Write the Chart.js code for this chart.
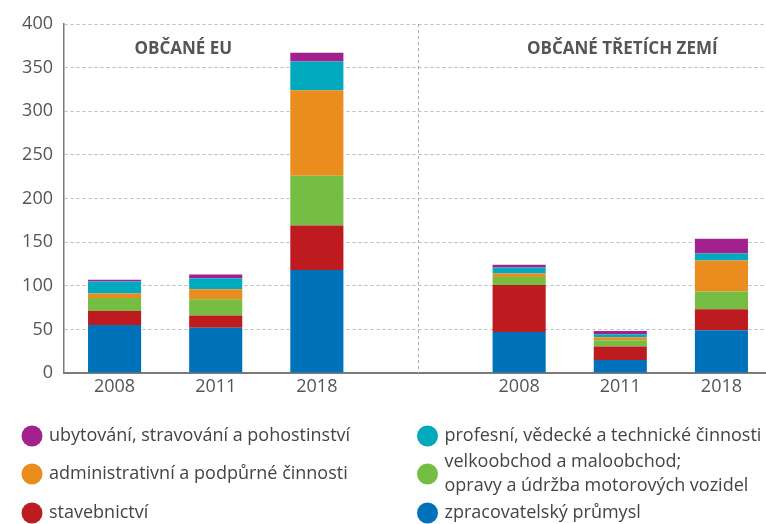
<!DOCTYPE html>
<html>
<head>
<meta charset="utf-8">
<script src="https://cdn.jsdelivr.net/npm/chart.js@4.4.1/dist/chart.umd.min.js"></script>
<style>
  html, body { margin: 0; padding: 0; background: #fff; overflow: hidden; }
  #wrap { width: 772px; height: 524px; }
</style>
</head>
<body>
<div id="wrap"><canvas id="c" width="772" height="524"></canvas></div>
<script>
// ---- data ----
const categories = ['2008', '2011', '2018', '', '2008', '2011', '2018'];
const groupTitles = ['OBČANÉ EU', 'OBČANÉ TŘETÍCH ZEMÍ'];
const yTicks = [0, 50, 100, 150, 200, 250, 300, 350, 400];

const zpracovatelsky = [55, 52, 118, null, 47, 15, 49];
const stavebnictvi   = [16, 14, 51, null, 54, 15.5, 24];
const velkoobchod    = [15, 18.5, 57, null, 9, 7, 20.5];
const administrativni= [5, 11.5, 98, null, 4, 3.5, 35.5];
const profesni       = [14, 12.5, 33, null, 7, 3.5, 8];
const ubytovani      = [2, 4.5, 10, null, 3, 3.5, 17];

const seriesLabels = [
  'zpracovatelský průmysl',
  'stavebnictví',
  'velkoobchod a maloobchod;\nopravy a údržba motorových vozidel',
  'administrativní a podpůrné činnosti',
  'profesní, vědecké a technické činnosti',
  'ubytování, stravování a pohostinství'
];
const seriesColors = ['#0072BA', '#BE1B21', '#76BE43', '#EB8C1E', '#00A9BD', '#A3218E'];
const seriesData = [zpracovatelsky, stavebnictvi, velkoobchod, administrativni, profesni, ubytovani];

// ---- styles ----
const FONT = "'Open Sans', 'DejaVu Sans', sans-serif";
const TEXT = '#555555';

const extrasPlugin = {
  id: 'extras',
  beforeDatasetsDraw(chart) {
    const {ctx, chartArea, scales: {x}} = chart;
    const xd = x.getPixelForValue(3);
    ctx.save();
    ctx.strokeStyle = '#aaaaaa';
    ctx.lineWidth = 1;
    ctx.setLineDash([3, 3]);
    ctx.beginPath();
    ctx.moveTo(Math.round(xd) + 0.5, chartArea.top);
    ctx.lineTo(Math.round(xd) + 0.5, chartArea.bottom);
    ctx.stroke();
    ctx.restore();
  },
  afterDraw(chart) {
    const {ctx, scales: {x, y}} = chart;
    const p0 = x.getPixelForValue(0), p1 = x.getPixelForValue(1);
    const step = p1 - p0;
    ctx.save();
    ctx.fillStyle = TEXT;
    ctx.font = "bold 17px " + FONT;
    ctx.textAlign = 'center';
    ctx.textBaseline = 'middle';
    ctx.fillText(groupTitles[0], p0 + step * 0.68, y.getPixelForValue(371));
    ctx.fillText(groupTitles[1], p0 + step * 5.02, y.getPixelForValue(371));

    // legend
    const order = [5, 4, 3, 2, 1, 0];
    const colX = [32, 427.5];
    const rowY = [436, 474, 513];
    ctx.font = "18px " + FONT;
    ctx.textAlign = 'left';
    order.forEach((di, k) => {
      const col = k % 2, row = Math.floor(k / 2);
      const cx = colX[col], cy = rowY[row];
      ctx.fillStyle = seriesColors[di];
      ctx.beginPath();
      ctx.arc(cx, cy, 10.5, 0, Math.PI * 2);
      ctx.fill();
      ctx.fillStyle = '#444444';
      const lines = seriesLabels[di].split('\n');
      const lh = 24;
      lines.forEach((ln, i) => {
        ctx.fillText(ln, cx + 17, cy + (i - (lines.length - 1) / 2) * lh);
      });
    });
    ctx.restore();
  }
};

new Chart(document.getElementById('c'), {
  type: 'bar',
  data: {
    labels: categories,
    datasets: seriesData.map((d, i) => ({
      label: seriesLabels[i],
      data: d,
      backgroundColor: seriesColors[i],
      borderWidth: 0,
      categoryPercentage: 1,
      barPercentage: 0.525
    }))
  },
  options: {
    responsive: false,
    devicePixelRatio: 1,
    animation: false,
    layout: { padding: { left: 0, right: 0, top: 24, bottom: 123 } },
    plugins: { legend: { display: false }, tooltip: { enabled: false } },
    scales: {
      x: {
        stacked: true,
        grid: { display: false, drawTicks: false },
        border: { display: true, color: '#7a7a7a', width: 2 },
        ticks: { color: TEXT, font: { family: FONT, size: 18 }, padding: 3, maxRotation: 0 },
        afterFit(s) { s.height = 28; }
      },
      y: {
        stacked: true,
        min: 0, max: 400,
        afterBuildTicks(s) { s.ticks = yTicks.map(v => ({ value: v })); },
        grid: { color: '#bdbdbd', lineWidth: 1, drawTicks: false },
        border: { display: true, color: '#7a7a7a', width: 1.5, dash: [3, 3], dashOffset: 0 },
        ticks: { color: TEXT, font: { family: FONT, size: 18 }, padding: 11 },
        afterFit(s) { s.width = 64; }
      }
    }
  },
  plugins: [extrasPlugin]
});
</script>
</body>
</html>
